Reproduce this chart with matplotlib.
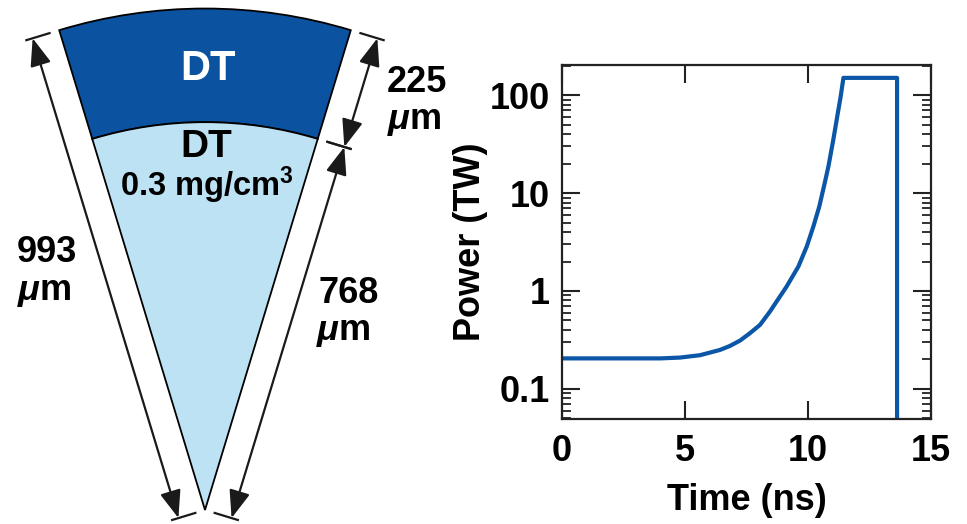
import matplotlib
matplotlib.use("Agg")
import matplotlib.pyplot as plt
import numpy as np
from matplotlib.patches import Wedge, FancyArrowPatch
from matplotlib.ticker import FixedLocator, FuncFormatter

plt.rcParams["font.family"] = "Liberation Sans"
plt.rcParams["font.weight"] = "bold"
plt.rcParams["axes.labelweight"] = "bold"
plt.rcParams["mathtext.fontset"] = "custom"
plt.rcParams["mathtext.rm"] = "Liberation Sans:bold"
plt.rcParams["mathtext.it"] = "Liberation Sans:italic:bold"
plt.rcParams["mathtext.bf"] = "Liberation Sans:bold"

# target geometry (um)
outer_radius = 993
inner_radius = 768
shell_thickness = 225
half_angle = 16.9  # deg

# laser pulse
time_ns = [0, 2, 4, 4.8, 5.61, 6.42, 6.83, 7.24, 7.64, 8.05, 8.46, 8.59,
           9.13, 9.61, 9.95, 10.22, 10.46, 10.69, 10.83, 11.03, 11.19, 11.33,
           11.44, 13.62, 13.62]
power_tw = [0.205, 0.205, 0.205, 0.209, 0.221, 0.25, 0.275, 0.312, 0.371,
            0.451, 0.62, 0.695, 1.11, 1.78, 2.85, 4.57, 7.3, 13.0, 18.7,
            35.2, 60.8, 97.5, 150, 150, 0.01]

dark_blue = "#0b52a0"
light_blue = "#bde2f4"
line_blue = "#0b56a6"
ink = "#1a1a1a"

fig = plt.figure(figsize=(9.67, 5.24), dpi=100)

# ---- left: wedge diagram, axes in um with equal scale
s = 0.505  # px per um
ax0 = fig.add_axes([0, 0, 0.45, 1])
w_px = 0.45 * 967
ax0.set_xlim(-205 / s, (w_px - 205) / s)
ax0.set_ylim(-14 / s, (524 - 14) / s)
ax0.axis("off")

ax0.add_patch(Wedge((0, 0), outer_radius, 90 - half_angle, 90 + half_angle,
                    width=shell_thickness, facecolor=dark_blue,
                    edgecolor="black", lw=1.3))
ax0.add_patch(Wedge((0, 0), inner_radius, 90 - half_angle, 90 + half_angle,
                    facecolor=light_blue, edgecolor="black", lw=1.3))


def edge_point(r, side, off):
    th = np.radians(90 + side * half_angle)
    nrm = th + side * np.pi / 2
    return (r * np.cos(th) + off * np.cos(nrm), r * np.sin(th) + off * np.sin(nrm))


def dim_line(r0, r1, side, off=55):
    p0 = edge_point(r0, side, off)
    p1 = edge_point(r1, side, off)
    ax0.add_patch(FancyArrowPatch(p0, p1,
                                  arrowstyle="<|-|>,head_length=1.0,head_width=0.38",
                                  mutation_scale=17, color=ink, lw=1.6,
                                  shrinkA=0, shrinkB=0))
    for r in (r0, r1):
        a = edge_point(r, side, 20)
        b = edge_point(r, side, 68)
        ax0.plot([a[0], b[0]], [a[1], b[1]], color=ink, lw=1.6)


dim_line(outer_radius, 0, 1)
dim_line(outer_radius, inner_radius, -1)
dim_line(inner_radius, 0, -1)


def px(x, y):
    return ((x - 205) / s, (510 - y) / s)


ax0.text(*px(208, 80), "DT", color="white", fontsize=30, ha="center", va="baseline")
ax0.text(*px(206, 157), "DT", color="black", fontsize=28, ha="center", va="baseline")
ax0.text(*px(207, 196), r"0.3 mg/cm$^{3}$", color="black", fontsize=23.5,
         ha="center", va="baseline")
ax0.text(*px(17, 262), f"{outer_radius}", fontsize=26, ha="left", va="baseline")
ax0.text(*px(17, 300), r"$\mu$m", fontsize=26, ha="left", va="baseline")
ax0.text(*px(319, 303), f"{inner_radius}", fontsize=26, ha="left", va="baseline")
ax0.text(*px(316, 340), r"$\mu$m", fontsize=26, ha="left", va="baseline")
ax0.text(*px(387, 92), f"{shell_thickness}", fontsize=26, ha="left", va="baseline")
ax0.text(*px(387, 129), r"$\mu$m", fontsize=26, ha="left", va="baseline")

# ---- right: pulse shape
ax = fig.add_axes([562 / 967, 105 / 524, 369 / 967, 354 / 524])
ax.plot(time_ns, power_tw, color=line_blue, lw=3)
ax.set_yscale("log")
ax.set_xlim(0, 15)
ax.set_ylim(0.0493, 203)
ax.xaxis.set_major_locator(FixedLocator([0, 5, 10, 15]))
ax.yaxis.set_major_locator(FixedLocator([0.1, 1, 10, 100]))
ax.yaxis.set_minor_locator(FixedLocator(
    [m * 10.0 ** e for e in range(-2, 3) for m in range(2, 10)]))
ax.yaxis.set_major_formatter(FuncFormatter(lambda v, p: f"{v:g}"))
ax.yaxis.set_minor_formatter(FuncFormatter(lambda v, p: ""))
ax.tick_params(which="both", direction="in", top=True, right=True,
               labelsize=26, width=1.5, color="#222222")
ax.tick_params(axis="x", which="major", length=13, pad=11)
ax.tick_params(axis="y", which="major", length=13, pad=9)
ax.tick_params(which="minor", length=6.5, width=1.3)
for sp in ax.spines.values():
    sp.set_linewidth(1.6)
    sp.set_color("#222222")
ax.set_xlabel("Time (ns)", fontsize=26, labelpad=10)
ax.set_ylabel("Power (TW)", fontsize=26, labelpad=1)

fig.savefig("out.png", dpi=100)
